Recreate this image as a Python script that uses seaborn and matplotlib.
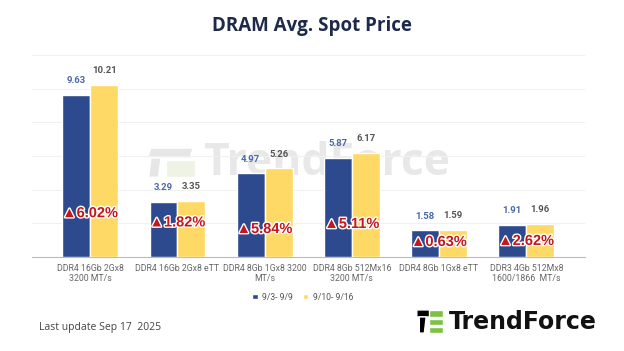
import pandas as pd
import matplotlib.pyplot as plt
import matplotlib.patheffects as pe
from matplotlib.patches import Polygon
import seaborn as sns

# data
products = ['DDR4 16Gb 2Gx8\n3200 MT/s', 'DDR4 16Gb 2Gx8 eTT', 'DDR4 8Gb 1Gx8 3200\nMT/s',
            'DDR4 8Gb 512Mx16\n3200 MT/s', 'DDR4 8Gb 1Gx8 eTT', 'DDR3 4Gb 512Mx8\n1600/1866  MT/s']
week1 = [9.63, 3.29, 4.97, 5.87, 1.58, 1.91]
week2 = [10.21, 3.35, 5.26, 6.17, 1.59, 1.96]
periods = ['9/3- 9/9', '9/10- 9/16']

# layout only: where the red change labels sit (data units)
pct_y = [2.6, 2.05, 1.66, 1.96, 0.89, 0.95]

df = pd.DataFrame({
    'product': products * 2,
    'price': week1 + week2,
    'period': [periods[0]] * len(products) + [periods[1]] * len(products),
})

BLUE = '#2D4A8E'
YELLOW = '#FFD966'

sns.set_style('white')
plt.rcParams['font.family'] = ['Roboto', 'DejaVu Sans']

fig = plt.figure(figsize=(6.24, 3.51), dpi=100)
ax = fig.add_axes([0.051, 0.268, 0.886, 0.575])
ax.set_zorder(2)
ax.patch.set_alpha(0)

# watermark behind the bars
fig.text(0.325, 0.535, 'TrendForce', fontsize=32, fontweight='bold', color='#e8e8e8',
         ha='left', va='center', family='Open Sans', zorder=1)
wm = [[(0.242, 0.578), (0.31, 0.578), (0.304, 0.55), (0.236, 0.55)],
      [(0.242, 0.55), (0.258, 0.55), (0.254, 0.495), (0.238, 0.495)],
      [(0.266, 0.545), (0.312, 0.545), (0.312, 0.495), (0.266, 0.495)]]
for i, pts in enumerate(wm):
    fig.patches.append(Polygon(pts, closed=True, transform=fig.transFigure,
                               facecolor='#e6e6e6' if i < 2 else '#eef3e4', zorder=1))

sns.barplot(data=df, x='product', y='price', hue='period', palette=[BLUE, YELLOW],
            width=0.64, gap=0, ax=ax, saturation=1, zorder=3)

ax.set_ylim(0, 12)
ax.set_xlim(-0.67, 5.67)
ax.set_yticks(range(0, 13, 2))
ax.yaxis.grid(True, color='#f0f0f0', linewidth=0.8)
ax.set_axisbelow(True)
ax.tick_params(axis='y', left=False, labelleft=False)
ax.tick_params(axis='x', length=0, pad=5, labelsize=6.3, labelcolor='#666666')
ax.set_xlabel('')
ax.set_ylabel('')
for s in ['top', 'right', 'left']:
    ax.spines[s].set_visible(False)
ax.spines['bottom'].set_color('#bbbbbb')
ax.spines['bottom'].set_linewidth(0.8)

# value labels
for cont, col in zip(ax.containers, ['#4A67A6', '#555555']):
    ax.bar_label(cont, labels=[f'{v:.2f}' for v in cont.datavalues], padding=7,
                 fontsize=6.8, fontweight='bold', color=col)

# change labels
for i, (a, b) in enumerate(zip(week1, week2)):
    ax.text(i, pct_y[i], f'▲{(b / a - 1) * 100:.2f}%', ha='center', va='center',
            fontsize=10.5, fontweight='bold', color='#C4161C',
            family=['Liberation Sans', 'DejaVu Sans'], zorder=5,
            path_effects=[pe.withStroke(linewidth=2, foreground='white')])

leg = ax.legend(loc='center', bbox_to_anchor=(0.49, -0.2), ncol=2, frameon=False,
                fontsize=6.2, handlelength=0.6, handleheight=0.6, columnspacing=1.2,
                handletextpad=0.5)
for t in leg.get_texts():
    t.set_color('#555555')

fig.text(0.5, 0.925, 'DRAM Avg. Spot Price', ha='center', va='center', fontsize=13.5,
         fontweight='bold', color='#1E2A4A', family='Open Sans')
fig.text(0.062, 0.068, 'Last update Sep 17  2025', ha='left', va='center', fontsize=7.5,
         color='#444444', family='Open Sans')

# logo
blk = [[(0.668, 0.117), (0.693, 0.117), (0.69, 0.097), (0.668, 0.097)],
       [(0.672, 0.097), (0.683, 0.097), (0.68, 0.051), (0.672, 0.051)]]
for pts in blk:
    fig.patches.append(Polygon(pts, closed=True, transform=fig.transFigure, facecolor='black'))
for y0, y1 in [(0.097, 0.117), (0.074, 0.091), (0.051, 0.068)]:
    fig.patches.append(Polygon([(0.688, y1), (0.71, y1), (0.71, y0), (0.688, y0)], closed=True,
                               transform=fig.transFigure, facecolor='#7BC142'))
fig.text(0.72, 0.083, 'TrendForce', ha='left', va='center', fontsize=17, fontweight='bold',
         color='#111111', family='DejaVu Sans')

fig.savefig('out.png', dpi=100, facecolor='white')
